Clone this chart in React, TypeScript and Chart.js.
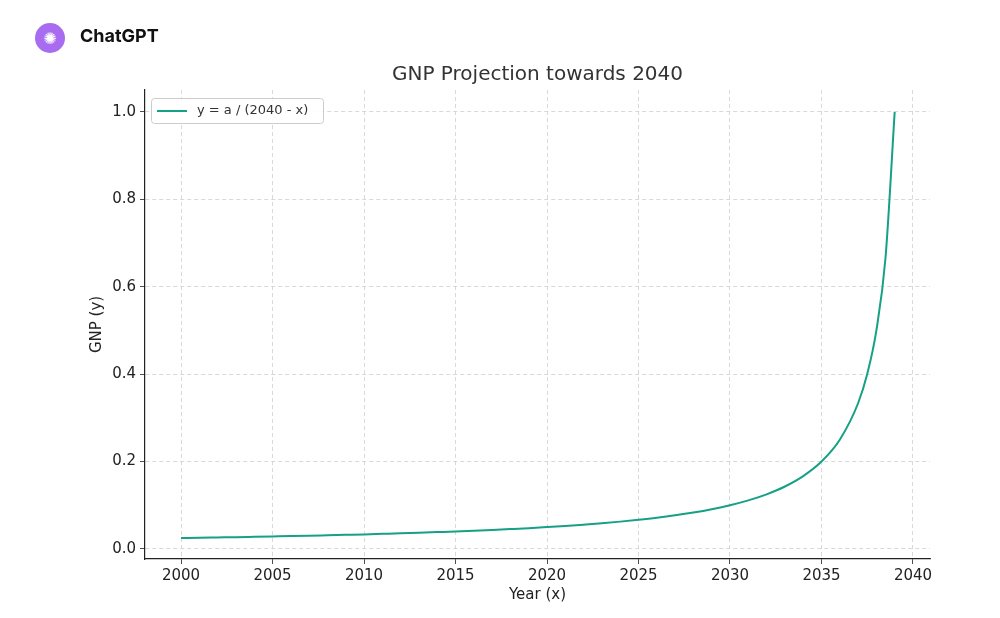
import React, { useEffect, useRef } from "react";
import { Chart, registerables } from "chart.js";
Chart.register(...registerables);

const years = [2000,2001,2002,2003,2004,2005,2006,2007,2008,2009,2010,2011,2012,2013,2014,2015,2016,2017,2018,2019,2020,2021,2022,2023,2024,2025,2026,2027,2028,2029,2030,2031,2032,2033,2034,2035,2036,2037,2037.5,2038,2038.5,2039];
const gnp = [0.025,0.0256,0.0263,0.027,0.0278,0.0286,0.0294,0.0303,0.0313,0.0323,0.0333,0.0345,0.0357,0.037,0.0385,0.04,0.0417,0.0435,0.0455,0.0476,0.05,0.0526,0.0556,0.0588,0.0625,0.0667,0.0714,0.0769,0.0833,0.0909,0.1,0.1111,0.125,0.1429,0.1667,0.2,0.25,0.3333,0.4,0.5,0.6667,1.0];
const xTicks = [2000,2005,2010,2015,2020,2025,2030,2035,2040];
const yTicks = [0,0.2,0.4,0.6,0.8,1.0];
const title = "GNP Projection towards 2040";
const legendLabel = "y = a / (2040 - x)";
const color = "#16a085";
const font = "'DejaVu Sans', sans-serif";

export default function App() {
  const ref = useRef<HTMLCanvasElement>(null);
  useEffect(() => {
    const overlay = {
      id: "overlay",
      afterDraw(c: any) {
        const ctx = c.ctx;
        ctx.save();
        ctx.fillStyle = "#333";
        ctx.font = "20px " + font;
        ctx.textAlign = "center";
        ctx.textBaseline = "middle";
        ctx.fillText(title, (c.chartArea.left + c.chartArea.right) / 2, 75);
        ctx.fillStyle = "rgba(255,255,255,0.9)";
        ctx.strokeStyle = "#ccc";
        ctx.lineWidth = 1;
        ctx.beginPath();
        (ctx as any).roundRect(151.5, 98.5, 172, 25, 3);
        ctx.fill();
        ctx.stroke();
        ctx.strokeStyle = color;
        ctx.lineWidth = 2;
        ctx.beginPath();
        ctx.moveTo(157, 111);
        ctx.lineTo(187, 111);
        ctx.stroke();
        ctx.fillStyle = "#333";
        ctx.font = "13px " + font;
        ctx.textAlign = "left";
        ctx.fillText(legendLabel, 197, 111);
        ctx.restore();
      },
    };
    const chart = new Chart(ref.current!, {
      type: "line",
      data: {
        datasets: [{
          data: years.map((x, i) => ({ x, y: gnp[i] })),
          borderColor: color, borderWidth: 2, pointRadius: 0, cubicInterpolationMode: "monotone",
        }],
      },
      options: {
        animation: false, responsive: false,
        layout: { padding: { top: 90, right: 70, left: 88, bottom: 14 } },
        plugins: { legend: { display: false }, tooltip: { enabled: false } },
        scales: {
          x: {
            type: "linear", min: 1998.03, max: 2040.93,
            afterFit: (s: any) => { s.height = 45; },
            afterBuildTicks: (s: any) => { s.ticks = xTicks.map(v => ({ value: v })); },
            ticks: { color: "#222", font: { size: 15, family: font }, padding: 3, callback: (v: any) => String(v), maxRotation: 0 },
            grid: { color: "#cfcfcf", tickColor: "#222", tickLength: 5, lineWidth: 0.8 },
            border: { color: "#222", width: 1.2, dash: [4, 3] },
            title: { display: true, text: "Year (x)", color: "#222", font: { size: 15, family: font }, padding: 0 },
          },
          y: {
            min: -0.023, max: 1.05,
            afterFit: (s: any) => { s.width = 57; },
            afterBuildTicks: (s: any) => { s.ticks = yTicks.map(v => ({ value: v })); },
            ticks: { color: "#222", font: { size: 15, family: font }, padding: 4, callback: (v: any) => Number(v).toFixed(1) },
            grid: { color: "#cfcfcf", tickColor: "#222", tickLength: 5, lineWidth: 0.8 },
            border: { color: "#222", width: 1.2, dash: [4, 3] },
            title: { display: true, text: "GNP (y)", color: "#222", font: { size: 15, family: font }, padding: 0 },
          },
        },
      },
      plugins: [overlay],
    } as any);
    return () => chart.destroy();
  }, []);
  return (
    <div style={{ position: "absolute", left: 0, top: 0, width: 1000, height: 618, background: "#fff" }}>
      <canvas ref={ref} width={1000} height={618} style={{ position: "absolute", left: 0, top: 0 }} />
      <div style={{ position: "absolute", left: 35, top: 23, width: 30, height: 30, borderRadius: 15, background: "#a86cf0", color: "#fff", display: "flex", alignItems: "center", justifyContent: "center", fontFamily: font, fontSize: 16 }}>✺</div>
      <div style={{ position: "absolute", left: 80, top: 25, fontFamily: "Inter, sans-serif", fontWeight: 700, fontSize: 18, color: "#111" }}>ChatGPT</div>
    </div>
  );
}
